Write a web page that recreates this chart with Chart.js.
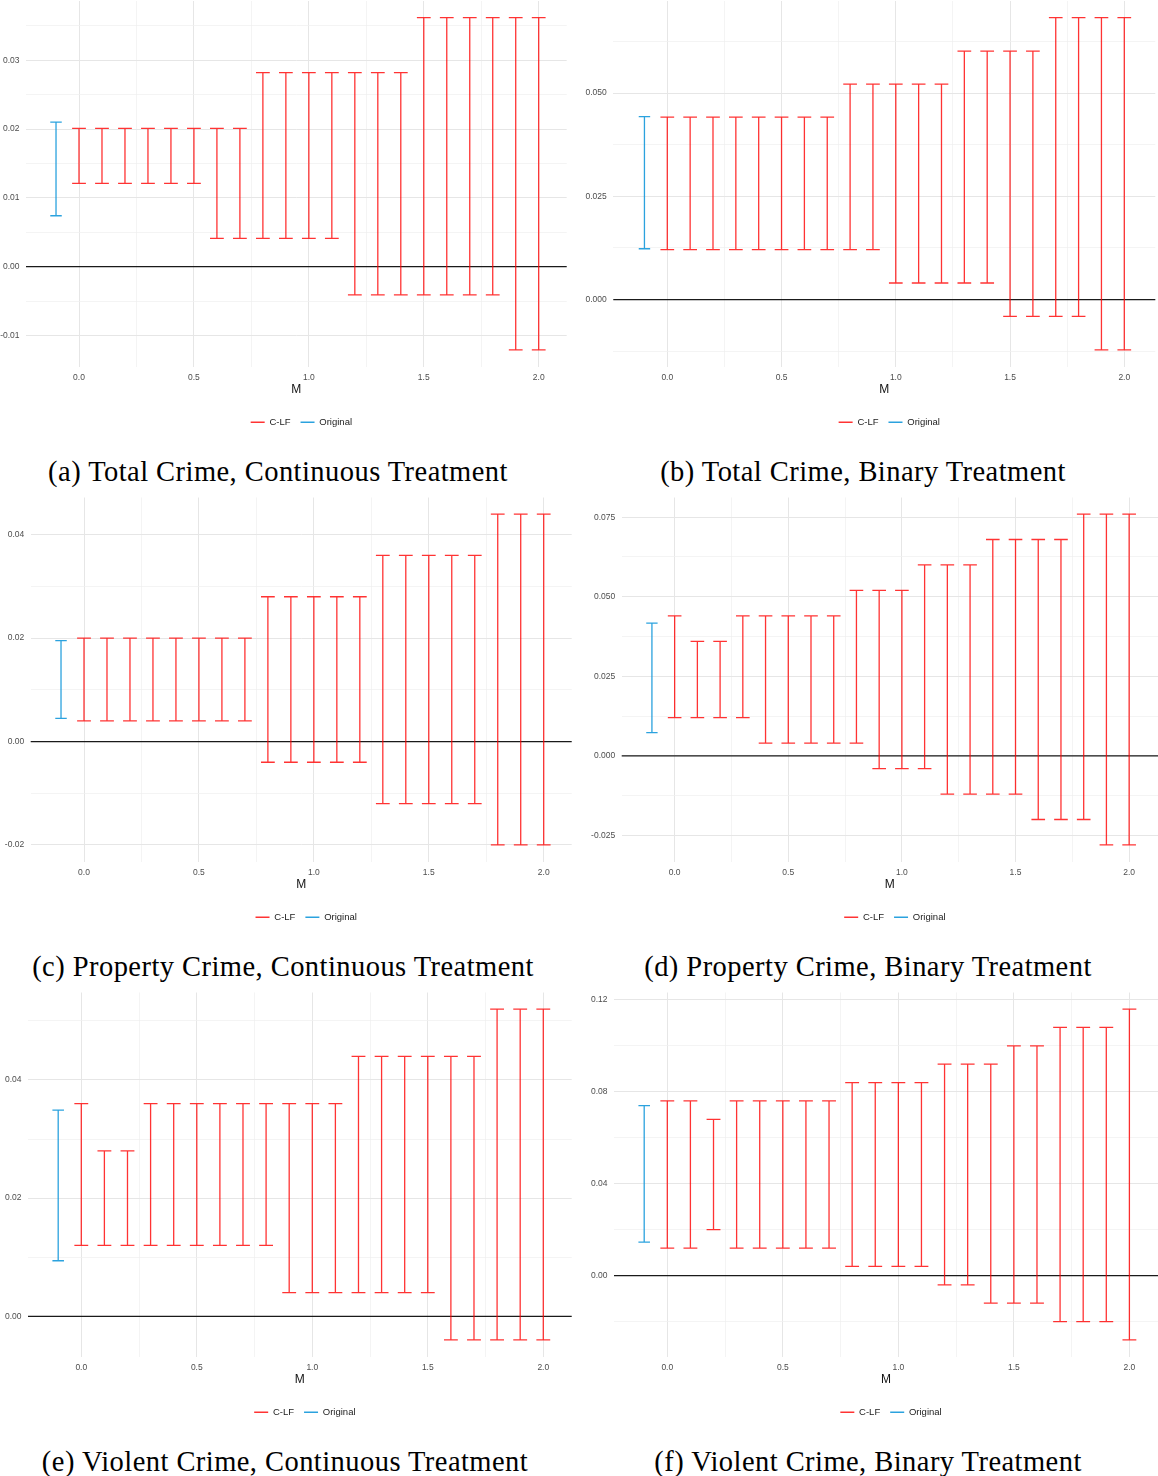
<!DOCTYPE html>
<html>
<head>
<meta charset="utf-8">
<script src="https://cdn.jsdelivr.net/npm/chart.js@4.4.0/dist/chart.umd.min.js"></script>
<style>
  html, body { margin: 0; padding: 0; background: #ffffff; }
  #page { position: relative; width: 1158px; height: 1476px; overflow: hidden; background: #ffffff; }
  .panel { position: absolute; }
  .caption {
    position: absolute;
    font-family: "Liberation Serif", "DejaVu Serif", serif;
    font-size: 28.5px;
    line-height: 30px;
    color: #000;
    white-space: nowrap;
    transform: translateX(-50%);
    letter-spacing: 0.45px;
  }
</style>
</head>
<body>
<div id="page"></div>
<script>
// Sensitivity parameter M and the position of the original estimate
const M_GRID = [0.0, 0.1, 0.2, 0.3, 0.4, 0.5, 0.6, 0.7, 0.8, 0.9, 1.0,
                1.1, 1.2, 1.3, 1.4, 1.5, 1.6, 1.7, 1.8, 1.9, 2.0];
const ORIGINAL_M = -0.1;
const X_TICK_LABELS = ['0.0', '0.5', '1.0', '1.5', '2.0'];

// (a) Total crime, continuous treatment
const TOTAL_CONT_LOW  = [0.0121, 0.0121, 0.0121, 0.0121, 0.0121, 0.0121, 0.0041, 0.0041, 0.0041, 0.0041, 0.0041,
                         0.0041, -0.0041, -0.0041, -0.0041, -0.0041, -0.0041, -0.0041, -0.0041, -0.0121, -0.0121];
const TOTAL_CONT_HIGH = [0.0201, 0.0201, 0.0201, 0.0201, 0.0201, 0.0201, 0.0201, 0.0201, 0.0282, 0.0282, 0.0282,
                         0.0282, 0.0282, 0.0282, 0.0282, 0.0362, 0.0362, 0.0362, 0.0362, 0.0362, 0.0362];
const TOTAL_CONT_ORIGINAL = [0.0074, 0.0210];
const TOTAL_CONT_YLABELS = ['-0.01', '0.00', '0.01', '0.02', '0.03'];

// (b) Total crime, binary treatment
const TOTAL_BIN_LOW  = [0.0121, 0.0121, 0.0121, 0.0121, 0.0121, 0.0121, 0.0121, 0.0121, 0.0121, 0.0121, 0.0040,
                        0.0040, 0.0040, 0.0040, 0.0040, -0.0041, -0.0041, -0.0041, -0.0041, -0.0122, -0.0122];
const TOTAL_BIN_HIGH = [0.0442, 0.0442, 0.0442, 0.0442, 0.0442, 0.0442, 0.0442, 0.0442, 0.0522, 0.0522, 0.0522,
                        0.0522, 0.0522, 0.0602, 0.0602, 0.0602, 0.0602, 0.0683, 0.0683, 0.0683, 0.0683];
const TOTAL_BIN_ORIGINAL = [0.0123, 0.0443];
const TOTAL_BIN_YLABELS = ['0.000', '0.025', '0.050'];

// (c) Property crime, continuous treatment
const PROP_CONT_LOW  = [0.004, 0.004, 0.004, 0.004, 0.004, 0.004, 0.004, 0.004, -0.004, -0.004, -0.004,
                        -0.004, -0.004, -0.012, -0.012, -0.012, -0.012, -0.012, -0.020, -0.020, -0.020];
const PROP_CONT_HIGH = [0.020, 0.020, 0.020, 0.020, 0.020, 0.020, 0.020, 0.020, 0.028, 0.028, 0.028,
                        0.028, 0.028, 0.036, 0.036, 0.036, 0.036, 0.036, 0.044, 0.044, 0.044];
const PROP_CONT_ORIGINAL = [0.0045, 0.0195];
const PROP_CONT_YLABELS = ['-0.02', '0.00', '0.02', '0.04'];

// (d) Property crime, binary treatment
const PROP_BIN_LOW  = [0.012, 0.012, 0.012, 0.012, 0.004, 0.004, 0.004, 0.004, 0.004, -0.004, -0.004,
                       -0.004, -0.012, -0.012, -0.012, -0.012, -0.020, -0.020, -0.020, -0.028, -0.028];
const PROP_BIN_HIGH = [0.044, 0.036, 0.036, 0.044, 0.044, 0.044, 0.044, 0.044, 0.052, 0.052, 0.052,
                       0.060, 0.060, 0.060, 0.068, 0.068, 0.068, 0.068, 0.076, 0.076, 0.076];
const PROP_BIN_ORIGINAL = [0.0073, 0.0417];
const PROP_BIN_YLABELS = ['-0.025', '0.000', '0.025', '0.050', '0.075'];

// (e) Violent crime, continuous treatment
const VIOL_CONT_LOW  = [0.012, 0.012, 0.012, 0.012, 0.012, 0.012, 0.012, 0.012, 0.012, 0.004, 0.004,
                        0.004, 0.004, 0.004, 0.004, 0.004, -0.004, -0.004, -0.004, -0.004, -0.004];
const VIOL_CONT_HIGH = [0.036, 0.028, 0.028, 0.036, 0.036, 0.036, 0.036, 0.036, 0.036, 0.036, 0.036,
                        0.036, 0.044, 0.044, 0.044, 0.044, 0.044, 0.044, 0.052, 0.052, 0.052];
const VIOL_CONT_ORIGINAL = [0.0094, 0.0349];
const VIOL_CONT_YLABELS = ['0.00', '0.02', '0.04'];

// (f) Violent crime, binary treatment
const VIOL_BIN_LOW  = [0.012, 0.012, 0.020, 0.012, 0.012, 0.012, 0.012, 0.012, 0.004, 0.004, 0.004,
                       0.004, -0.004, -0.004, -0.012, -0.012, -0.012, -0.020, -0.020, -0.020, -0.028];
const VIOL_BIN_HIGH = [0.076, 0.076, 0.068, 0.076, 0.076, 0.076, 0.076, 0.076, 0.084, 0.084, 0.084,
                       0.084, 0.092, 0.092, 0.092, 0.100, 0.100, 0.108, 0.108, 0.108, 0.116];
const VIOL_BIN_ORIGINAL = [0.0146, 0.0740];
const VIOL_BIN_YLABELS = ['0.00', '0.04', '0.08', '0.12'];

// Styling
const SANS = "'Liberation Sans', Arial, Helvetica, sans-serif";
const RED = 'rgba(255, 0, 0, 0.8)';
const BLUE = 'rgba(20, 152, 218, 0.9)';
const BAR_WIDTH = 1.3;
const CLF_CAP = 0.06;
const ORIG_CAP = 0.05;
const GRID_MAJOR = '#e6e6e6';
const GRID_MINOR = '#efefef';

// Panel placement on the page: canvas origin, plot-area insets, x range, caption centre
const PANELS = [
  { low: TOTAL_CONT_LOW, high: TOTAL_CONT_HIGH, orig: TOTAL_CONT_ORIGINAL, ylabels: TOTAL_CONT_YLABELS,
    caption: '(a) Total Crime, Continuous Treatment',
    left: 0, top: 0, plotLeft: 26, padRight: 11.3, padTop: 1, xMin: -0.2306, xMax: 2.1218, capX: 278, capY: 471 },
  { low: TOTAL_BIN_LOW, high: TOTAL_BIN_HIGH, orig: TOTAL_BIN_ORIGINAL, ylabels: TOTAL_BIN_YLABELS,
    caption: '(b) Total Crime, Binary Treatment',
    left: 580, top: 0, plotLeft: 33.3, padRight: 2.7, padTop: 1, xMin: -0.2363, xMax: 2.1357, capX: 863, capY: 471 },
  { low: PROP_CONT_LOW, high: PROP_CONT_HIGH, orig: PROP_CONT_ORIGINAL, ylabels: PROP_CONT_YLABELS,
    caption: '(c) Property Crime, Continuous Treatment',
    left: 0, top: 495, plotLeft: 30.7, padRight: 6.3, padTop: 2.5, xMin: -0.2319, xMax: 2.1218, capX: 283, capY: 966 },
  { low: PROP_BIN_LOW, high: PROP_BIN_HIGH, orig: PROP_BIN_ORIGINAL, ylabels: PROP_BIN_YLABELS,
    caption: '(d) Property Crime, Binary Treatment',
    left: 580, top: 495, plotLeft: 41.7, padRight: 0, padTop: 2.5, xMin: -0.233, xMax: 2.127, capX: 868, capY: 966 },
  { low: VIOL_CONT_LOW, high: VIOL_CONT_HIGH, orig: VIOL_CONT_ORIGINAL, ylabels: VIOL_CONT_YLABELS,
    caption: '(e) Violent Crime, Continuous Treatment',
    left: 0, top: 990, plotLeft: 28, padRight: 6.3, padTop: 2.5, xMin: -0.2307, xMax: 2.123, capX: 285, capY: 1461 },
  { low: VIOL_BIN_LOW, high: VIOL_BIN_HIGH, orig: VIOL_BIN_ORIGINAL, ylabels: VIOL_BIN_YLABELS,
    caption: '(f) Violent Crime, Binary Treatment',
    left: 580, top: 990, plotLeft: 34, padRight: 0, padTop: 2.5, xMin: -0.2307, xMax: 2.1238, capX: 868, capY: 1461 }
];

const CANVAS_W = 578;
const CANVAS_H = 440;

// Draws the zero reference line and the interval whiskers with caps
const errorBarPlugin = {
  id: 'errorBars',
  afterLayout(chart) {
    // nudge the legend row so its items sit slightly right of the plot centre
    if (chart.legend) {
      chart.legend.left += 5;
      chart.legend.right += 5;
    }
  },
  afterDatasetsDraw(chart) {
    const { ctx, chartArea, scales: { x, y } } = chart;
    ctx.save();
    const y0 = y.getPixelForValue(0);
    ctx.strokeStyle = '#1a1a1a';
    ctx.lineWidth = 1.2;
    ctx.beginPath();
    ctx.moveTo(chartArea.left, y0);
    ctx.lineTo(chartArea.right, y0);
    ctx.stroke();

    chart.data.datasets.forEach((ds, di) => {
      if (!chart.isDatasetVisible(di)) return;
      ctx.strokeStyle = ds.borderColor;
      ctx.lineWidth = ds.borderWidth;
      const half = ds.capWidth / 2;
      ds.data.forEach(p => {
        const px = x.getPixelForValue(p.x);
        const pl = x.getPixelForValue(p.x - half);
        const pr = x.getPixelForValue(p.x + half);
        const yl = y.getPixelForValue(p.yMin);
        const yh = y.getPixelForValue(p.yMax);
        ctx.beginPath();
        ctx.moveTo(px, yl); ctx.lineTo(px, yh);
        ctx.moveTo(pl, yh); ctx.lineTo(pr, yh);
        ctx.moveTo(pl, yl); ctx.lineTo(pr, yl);
        ctx.stroke();
      });
    });
    ctx.restore();
  }
};

function near(a, b) { return Math.abs(a - b) < 1e-9; }

function buildPanel(cfg) {
  const page = document.getElementById('page');
  const canvas = document.createElement('canvas');
  canvas.className = 'panel';
  canvas.width = CANVAS_W;
  canvas.height = CANVAS_H;
  canvas.style.left = cfg.left + 'px';
  canvas.style.top = cfg.top + 'px';
  canvas.style.width = CANVAS_W + 'px';
  canvas.style.height = CANVAS_H + 'px';
  page.appendChild(canvas);

  const cap = document.createElement('div');
  cap.className = 'caption';
  cap.textContent = cfg.caption;
  cap.style.left = cfg.capX + 'px';
  cap.style.top = (cfg.capY - 14) + 'px';
  page.appendChild(cap);

  // Value range with a 5% expansion on each side
  const all = cfg.low.concat(cfg.high, cfg.orig);
  const yLo = Math.min(...all), yHi = Math.max(...all);
  const yPad = (yHi - yLo) * 0.05;

  const yMajorVals = cfg.ylabels.map(Number);
  const yMajor = yMajorVals[1] - yMajorVals[0];
  const yLabelFor = v => {
    const i = yMajorVals.findIndex(t => near(t, v));
    return i >= 0 ? cfg.ylabels[i] : '';
  };
  const xMajorVals = X_TICK_LABELS.map(Number);
  const xLabelFor = v => {
    const i = xMajorVals.findIndex(t => near(t, v));
    return i >= 0 ? X_TICK_LABELS[i] : '';
  };

  const clfData = M_GRID.map((m, i) => ({ x: m, y: cfg.high[i], yMin: cfg.low[i], yMax: cfg.high[i] }));
  const origData = [{ x: ORIGINAL_M, y: cfg.orig[1], yMin: cfg.orig[0], yMax: cfg.orig[1] }];

  new Chart(canvas, {
    type: 'scatter',
    data: {
      datasets: [
        { label: 'C-LF', data: clfData, borderColor: RED, backgroundColor: RED, borderWidth: BAR_WIDTH,
          capWidth: CLF_CAP, pointRadius: 0, pointHoverRadius: 0, pointStyle: 'line' },
        { label: 'Original', data: origData, borderColor: BLUE, backgroundColor: BLUE, borderWidth: BAR_WIDTH,
          capWidth: ORIG_CAP, pointRadius: 0, pointHoverRadius: 0, pointStyle: 'line' }
      ]
    },
    options: {
      responsive: false,
      animation: false,
      devicePixelRatio: 1,
      events: [],
      layout: { padding: { left: 0, right: cfg.padRight, top: cfg.padTop, bottom: 3 } },
      scales: {
        x: {
          type: 'linear',
          min: cfg.xMin,
          max: cfg.xMax,
          border: { display: false },
          grid: {
            drawTicks: false,
            color: c => (c.tick && xLabelFor(c.tick.value) !== '') ? GRID_MAJOR : GRID_MINOR,
            lineWidth: c => (c.tick && xLabelFor(c.tick.value) !== '') ? 1 : 0.7
          },
          ticks: {
            stepSize: 0.25,
            includeBounds: false,
            maxTicksLimit: 100,
            autoSkip: false,
            maxRotation: 0,
            padding: 6,
            color: '#4d4d4d',
            font: { family: SANS, size: 8.5 },
            callback: v => xLabelFor(v)
          },
          title: {
            display: true,
            text: 'M',
            color: '#111',
            font: { family: SANS, size: 12 },
            padding: { top: 0, bottom: 11 }
          },
          afterFit(s) { s.height = 41; s.paddingLeft = 0; s.paddingRight = 0; }
        },
        y: {
          type: 'linear',
          min: yLo - yPad,
          max: yHi + yPad,
          border: { display: false },
          grid: {
            drawTicks: false,
            color: c => (c.tick && yLabelFor(c.tick.value) !== '') ? GRID_MAJOR : GRID_MINOR,
            lineWidth: c => (c.tick && yLabelFor(c.tick.value) !== '') ? 1 : 0.7
          },
          ticks: {
            stepSize: yMajor / 2,
            includeBounds: false,
            maxTicksLimit: 100,
            autoSkip: false,
            padding: 6.5,
            color: '#4d4d4d',
            font: { family: SANS, size: 8.5 },
            callback: v => yLabelFor(v)
          },
          afterFit(s) { s.width = cfg.plotLeft; s.paddingTop = 0; s.paddingBottom = 0; }
        }
      },
      plugins: {
        tooltip: { enabled: false },
        legend: {
          position: 'bottom',
          fullSize: false,
          align: 'center',
          labels: {
            usePointStyle: true,
            pointStyleWidth: 14,
            boxHeight: 9,
            padding: 10,
            color: '#222',
            font: { family: SANS, size: 9.5 }
          }
        }
      }
    },
    plugins: [errorBarPlugin]
  });
}

PANELS.forEach(buildPanel);
</script>
</body>
</html>
